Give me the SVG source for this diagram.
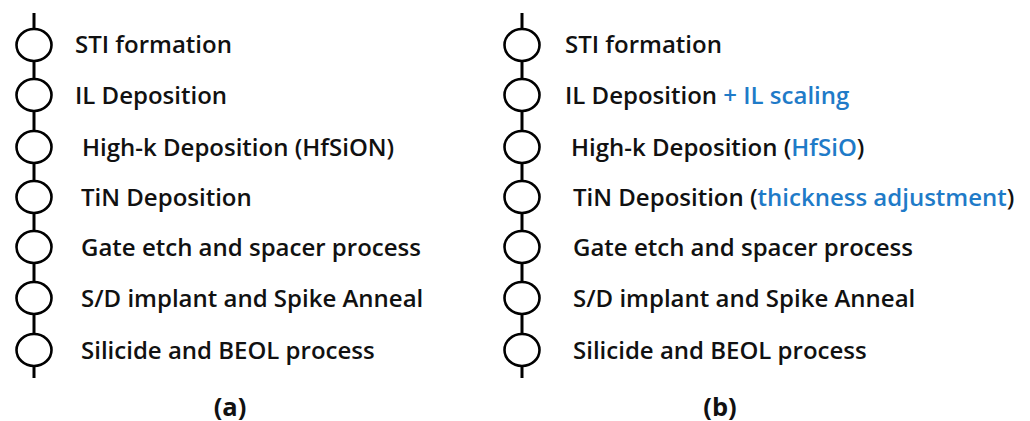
<svg xmlns="http://www.w3.org/2000/svg" width="1030" height="421" viewBox="0 0 1030 421">
<style>
.ln{stroke:#000;stroke-width:3;fill:none}
.nd{fill:#fff;stroke:#000;stroke-width:2.6}
.t{font-family:"Open Sans","Noto Sans",sans-serif;font-weight:600;font-size:24px;fill:#111}
.b{fill:#1f7bc8}
.cap{font-family:"Open Sans","Noto Sans",sans-serif;font-weight:700;font-size:25.5px;fill:#111}
</style>
<rect width="1030" height="421" fill="#fff"/>
<g id="connectors">
<line class="ln" x1="34" y1="13" x2="34" y2="378"/>
<line class="ln" x1="522" y1="13" x2="522" y2="378"/>
</g>
<g id="a-stack">
<g id="a1"><ellipse class="nd" cx="34" cy="45" rx="17.5" ry="16"/><text class="t" x="75" y="53">STI formation</text></g>
<g id="a2"><ellipse class="nd" cx="34" cy="95" rx="17.5" ry="16"/><text class="t" x="75" y="104">IL Deposition</text></g>
<g id="a3"><ellipse class="nd" cx="34" cy="147" rx="17.5" ry="16"/><text class="t" x="82" y="156">High-k Deposition (HfSiON)</text></g>
<g id="a4"><ellipse class="nd" cx="34" cy="197" rx="17.5" ry="16"/><text class="t" x="81" y="206">TiN Deposition</text></g>
<g id="a5"><ellipse class="nd" cx="34" cy="247" rx="17.5" ry="16"/><text class="t" x="81" y="256">Gate etch and spacer process</text></g>
<g id="a6"><ellipse class="nd" cx="34" cy="298" rx="17.5" ry="16"/><text class="t" x="81" y="307">S/D implant and Spike Anneal</text></g>
<g id="a7"><ellipse class="nd" cx="34" cy="350" rx="17.5" ry="16"/><text class="t" x="81" y="359">Silicide and BEOL process</text></g>
<text class="cap" x="230" y="416" text-anchor="middle">(a)</text>
</g>
<g id="b-stack">
<g id="b1"><ellipse class="nd" cx="522" cy="45" rx="17.5" ry="16"/><text class="t" x="565" y="53">STI formation</text></g>
<g id="b2"><ellipse class="nd" cx="522" cy="95" rx="17.5" ry="16"/><text class="t" x="565" y="104">IL Deposition <tspan class="b">+ IL scaling</tspan></text></g>
<g id="b3"><ellipse class="nd" cx="522" cy="147" rx="17.5" ry="16"/><text class="t" x="571" y="156">High-k Deposition (<tspan class="b">HfSiO</tspan>)</text></g>
<g id="b4"><ellipse class="nd" cx="522" cy="197" rx="17.5" ry="16"/><text class="t" x="573" y="206">TiN Deposition (<tspan class="b">thickness adjustment</tspan>)</text></g>
<g id="b5"><ellipse class="nd" cx="522" cy="247" rx="17.5" ry="16"/><text class="t" x="573" y="256">Gate etch and spacer process</text></g>
<g id="b6"><ellipse class="nd" cx="522" cy="298" rx="17.5" ry="16"/><text class="t" x="573" y="307">S/D implant and Spike Anneal</text></g>
<g id="b7"><ellipse class="nd" cx="522" cy="350" rx="17.5" ry="16"/><text class="t" x="573" y="359">Silicide and BEOL process</text></g>
<text class="cap" x="720" y="416" text-anchor="middle">(b)</text>
</g>
</svg>
